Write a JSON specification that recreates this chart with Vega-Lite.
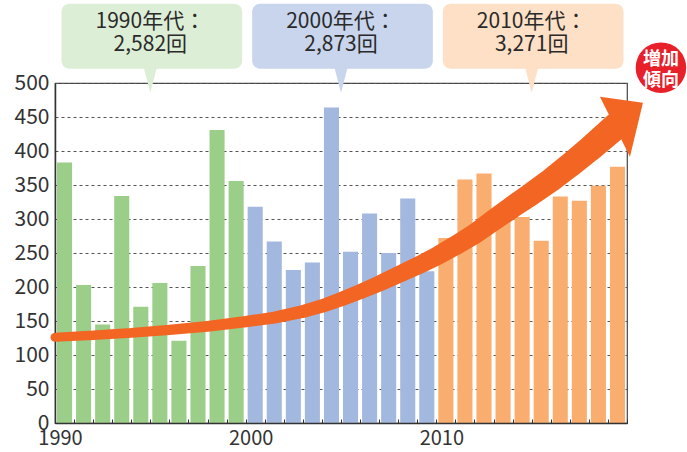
{
  "$schema": "https://vega.github.io/schema/vega-lite/v6.json",
  "width": 572,
  "height": 340,
  "autosize": {"type": "none"},
  "padding": {"left": 55, "top": 83, "right": 60, "bottom": 29},
  "background": "white",
  "config": {"font": "Noto Sans CJK JP", "view": {"stroke": "#444", "strokeWidth": 1.2}},
  "resolve": {"axis": {"x": "independent", "y": "independent"}},
  "datasets": {
    "counts": [
      {"year": 1990, "count": 383, "decade": "1990年代"},
      {"year": 1991, "count": 203, "decade": "1990年代"},
      {"year": 1992, "count": 145, "decade": "1990年代"},
      {"year": 1993, "count": 334, "decade": "1990年代"},
      {"year": 1994, "count": 171, "decade": "1990年代"},
      {"year": 1995, "count": 206, "decade": "1990年代"},
      {"year": 1996, "count": 121, "decade": "1990年代"},
      {"year": 1997, "count": 231, "decade": "1990年代"},
      {"year": 1998, "count": 431, "decade": "1990年代"},
      {"year": 1999, "count": 356, "decade": "1990年代"},
      {"year": 2000, "count": 318, "decade": "2000年代"},
      {"year": 2001, "count": 267, "decade": "2000年代"},
      {"year": 2002, "count": 225, "decade": "2000年代"},
      {"year": 2003, "count": 236, "decade": "2000年代"},
      {"year": 2004, "count": 464, "decade": "2000年代"},
      {"year": 2005, "count": 252, "decade": "2000年代"},
      {"year": 2006, "count": 308, "decade": "2000年代"},
      {"year": 2007, "count": 250, "decade": "2000年代"},
      {"year": 2008, "count": 330, "decade": "2000年代"},
      {"year": 2009, "count": 223, "decade": "2000年代"},
      {"year": 2010, "count": 272, "decade": "2010年代"},
      {"year": 2011, "count": 358, "decade": "2010年代"},
      {"year": 2012, "count": 367, "decade": "2010年代"},
      {"year": 2013, "count": 317, "decade": "2010年代"},
      {"year": 2014, "count": 303, "decade": "2010年代"},
      {"year": 2015, "count": 268, "decade": "2010年代"},
      {"year": 2016, "count": 333, "decade": "2010年代"},
      {"year": 2017, "count": 327, "decade": "2010年代"},
      {"year": 2018, "count": 349, "decade": "2010年代"},
      {"year": 2019, "count": 377, "decade": "2010年代"}
    ],
    "decades": [
      {"decade": "1990年代", "from": 1990, "to": 2000, "mid": 1995, "total": 2582},
      {"decade": "2000年代", "from": 2000, "to": 2010, "mid": 2005, "total": 2873},
      {"decade": "2010年代", "from": 2010, "to": 2020, "mid": 2015, "total": 3271}
    ],
    "arrow": [
      {"t": 1990, "v": 126},
      {"t": 1992, "v": 129},
      {"t": 1994, "v": 132.5},
      {"t": 1996, "v": 137},
      {"t": 1998, "v": 142},
      {"t": 2000, "v": 149},
      {"t": 2001.5, "v": 155},
      {"t": 2003, "v": 164},
      {"t": 2004, "v": 172},
      {"t": 2005, "v": 182},
      {"t": 2006, "v": 193},
      {"t": 2007, "v": 205},
      {"t": 2008, "v": 218},
      {"t": 2009, "v": 231},
      {"t": 2010, "v": 245},
      {"t": 2011, "v": 261},
      {"t": 2012, "v": 278},
      {"t": 2013, "v": 298},
      {"t": 2014, "v": 318},
      {"t": 2015, "v": 337},
      {"t": 2016, "v": 357},
      {"t": 2017, "v": 379},
      {"t": 2018, "v": 402},
      {"t": 2019.4, "v": 436}
    ]
  },
  "layer": [
    {
      "data": {"name": "counts"},
      "transform": [{"calculate": "datum.year + 1", "as": "year_end"}],
      "mark": {"type": "bar", "xOffset": 2, "x2Offset": -2},
      "encoding": {
        "x": {
          "field": "year", "type": "quantitative",
          "scale": {"domain": [1990, 2020], "nice": false, "zero": false},
          "axis": {
            "values": [1990,1991,1992,1993,1994,1995,1996,1997,1998,1999,2000,2001,2002,2003,2004,2005,2006,2007,2008,2009,2010,2011,2012,2013,2014,2015,2016,2017,2018,2019,2020],
            "labelExpr": "datum.value % 10 == 0 && datum.value < 2020 ? datum.value : ''",
            "tickSize": -4, "tickColor": "#333", "domainColor": "#333", "domainWidth": 1.5,
            "labelFontSize": 20, "labelColor": "#333", "labelPadding": 9, "labelOffset": 5,
            "labelFlush": false, "labelOverlap": false, "grid": false, "title": null, "zindex": 1
          }
        },
        "x2": {"field": "year_end"},
        "y": {
          "field": "count", "type": "quantitative",
          "scale": {"domain": [0, 500], "nice": false},
          "axis": {
            "values": [0,50,100,150,200,250,300,350,400,450,500],
            "grid": true, "gridDash": [3, 3], "gridColor": "#555", "gridWidth": 1,
            "ticks": false, "domainColor": "#333", "domainWidth": 1.5,
            "labelFontSize": 21, "labelColor": "#333", "labelPadding": 6, "title": null
          }
        },
        "y2": {"datum": 0},
        "color": {
          "field": "decade", "type": "nominal",
          "scale": {"domain": ["1990年代", "2000年代", "2010年代"], "range": ["#9bce89", "#a3b8df", "#f9ad6e"]},
          "legend": null
        }
      }
    },
    {
      "data": {"name": "arrow"},
      "mark": {"type": "trail", "color": "#f26522"},
      "encoding": {
        "x": {"field": "t", "type": "quantitative", "scale": {"domain": [1990, 2020], "nice": false, "zero": false}, "axis": null},
        "y": {"field": "v", "type": "quantitative", "scale": {"domain": [0, 500], "nice": false}, "axis": null},
        "size": {"field": "v", "type": "quantitative", "scale": {"type": "log", "domain": [126, 436], "range": [9, 27]}, "legend": null},
        "order": {"field": "t"}
      }
    },
    {
      "data": {"values": [{}]},
      "mark": {"type": "point", "shape": "M-0.5,-0.7L0.575,-0.55L0.25,0.8Z", "filled": true, "color": "#f26522", "opacity": 1, "size": 6400, "strokeWidth": 0},
      "encoding": {
        "x": {"datum": 2019.63, "type": "quantitative", "scale": {"domain": [1990, 2020], "nice": false, "zero": false}, "axis": null},
        "y": {"datum": 438.7, "type": "quantitative", "scale": {"domain": [0, 500], "nice": false}, "axis": null}
      }
    },
    {
      "data": {"name": "decades"},
      "mark": {"type": "rect", "xOffset": 6.5, "x2Offset": -3.5, "cornerRadius": 8},
      "encoding": {
        "x": {"field": "from", "type": "quantitative", "scale": {"domain": [1990, 2020], "nice": false, "zero": false}, "axis": null},
        "x2": {"field": "to"},
        "y": {"datum": 616.6, "type": "quantitative", "scale": {"domain": [0, 500], "nice": false}, "axis": null},
        "y2": {"datum": 521},
        "fill": {
          "field": "decade", "type": "nominal",
          "scale": {"domain": ["1990年代", "2000年代", "2010年代"], "range": ["#ddeed6", "#c8d5ec", "#fde0c6"]},
          "legend": null
        }
      }
    },
    {
      "data": {"name": "decades"},
      "mark": {"type": "point", "shape": "M-0.55,-1.1L0.55,-1.1L0,1Z", "filled": true, "opacity": 1, "size": 576, "strokeWidth": 0},
      "encoding": {
        "x": {"field": "mid", "type": "quantitative", "scale": {"domain": [1990, 2020], "nice": false, "zero": false}, "axis": null},
        "y": {"datum": 503.4, "type": "quantitative", "scale": {"domain": [0, 500], "nice": false}, "axis": null},
        "fill": {
          "field": "decade", "type": "nominal",
          "scale": {"domain": ["1990年代", "2000年代", "2010年代"], "range": ["#ddeed6", "#c8d5ec", "#fde0c6"]},
          "legend": null
        }
      }
    },
    {
      "data": {"name": "decades"},
      "transform": [
        {"calculate": "datum.decade + '：'", "as": "line1"}
      ],
      "mark": {"type": "text", "fontSize": 21, "color": "#2a2a2a", "baseline": "middle", "align": "center"},
      "encoding": {
        "x": {"field": "mid", "type": "quantitative", "scale": {"domain": [1990, 2020], "nice": false, "zero": false}, "axis": null},
        "y": {"datum": 589, "type": "quantitative", "scale": {"domain": [0, 500], "nice": false}, "axis": null},
        "text": {"field": "line1"}
      }
    },
    {
      "data": {"name": "decades"},
      "transform": [
        {"calculate": "format(datum.total, ',') + '回'", "as": "line2"}
      ],
      "mark": {"type": "text", "fontSize": 21, "color": "#2a2a2a", "baseline": "middle", "align": "center"},
      "encoding": {
        "x": {"field": "mid", "type": "quantitative", "scale": {"domain": [1990, 2020], "nice": false, "zero": false}, "axis": null},
        "y": {"datum": 556, "type": "quantitative", "scale": {"domain": [0, 500], "nice": false}, "axis": null},
        "text": {"field": "line2"}
      }
    },
    {
      "data": {"values": [{"label1": "増加", "label2": "傾向"}]},
      "mark": {"type": "point", "shape": "circle", "filled": true, "color": "#e8202a", "opacity": 1, "size": 2552, "strokeWidth": 0},
      "encoding": {
        "x": {"datum": 2021.78, "type": "quantitative", "scale": {"domain": [1990, 2020], "nice": false, "zero": false}, "axis": null},
        "y": {"datum": 522.5, "type": "quantitative", "scale": {"domain": [0, 500], "nice": false}, "axis": null}
      }
    },
    {
      "data": {"values": [{"label1": "増加", "label2": "傾向"}]},
      "mark": {"type": "text", "fontSize": 18, "fontWeight": "bold", "color": "white", "baseline": "middle", "align": "center"},
      "encoding": {
        "x": {"datum": 2021.78, "type": "quantitative", "scale": {"domain": [1990, 2020], "nice": false, "zero": false}, "axis": null},
        "y": {"datum": 534, "type": "quantitative", "scale": {"domain": [0, 500], "nice": false}, "axis": null},
        "text": {"field": "label1"}
      }
    },
    {
      "data": {"values": [{"label1": "増加", "label2": "傾向"}]},
      "mark": {"type": "text", "fontSize": 18, "fontWeight": "bold", "color": "white", "baseline": "middle", "align": "center"},
      "encoding": {
        "x": {"datum": 2021.78, "type": "quantitative", "scale": {"domain": [1990, 2020], "nice": false, "zero": false}, "axis": null},
        "y": {"datum": 503, "type": "quantitative", "scale": {"domain": [0, 500], "nice": false}, "axis": null},
        "text": {"field": "label2"}
      }
    }
  ]
}
